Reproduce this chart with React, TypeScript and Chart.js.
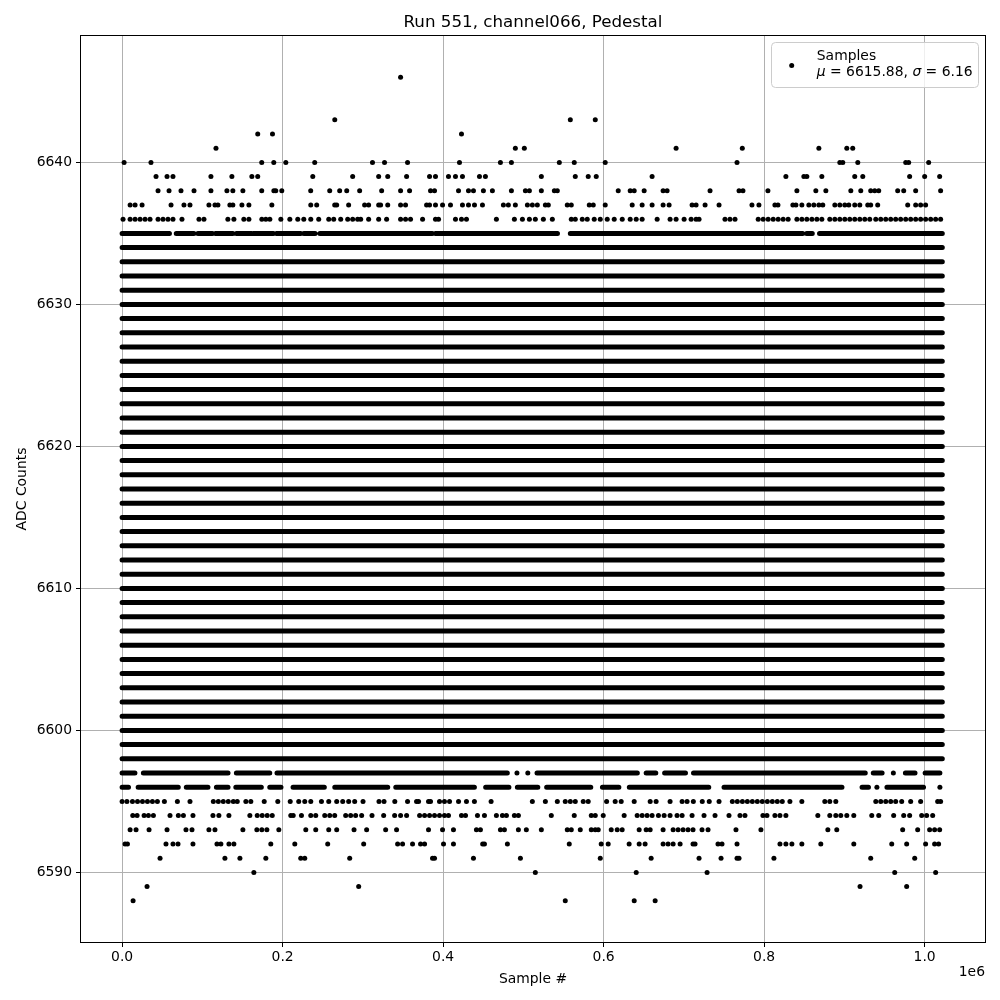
import React, { useEffect, useRef } from "react";
import { Chart, registerables } from "chart.js";

Chart.register(...registerables);

// ---------- text ----------
const TITLE = "Run 551, channel066, Pedestal";
const X_LABEL = "Sample #";
const Y_LABEL = "ADC Counts";
const X_OFFSET_LABEL = "1e6";
const LEGEND_LABEL = "Samples";
const MU = 6615.88;
const SIGMA = 6.16;

// ---------- axes ----------
const X_SCALE = 1e6; // x values below are in units of 1e6 samples
const X_MIN = -0.0512;
const X_MAX = 1.0752;
const Y_MIN = 6585.1;
const Y_MAX = 6648.9;
const X_TICKS = [0, 0.2, 0.4, 0.6, 0.8, 1.0];
const X_TICK_LABELS = ["0.0", "0.2", "0.4", "0.6", "0.8", "1.0"];
const Y_TICKS = [6590, 6600, 6610, 6620, 6630, 6640];

// ---------- data: rows that are solid across the whole run ----------
const X_FIRST = 0;
const X_LAST = 1.022;
const FULL_ROWS = [
  6598, 6599, 6600, 6601, 6602, 6603, 6604, 6605, 6606, 6607, 6608, 6609, 6610,
  6611, 6612, 6613, 6614, 6615, 6616, 6617, 6618, 6619, 6620, 6621, 6622, 6623,
  6624, 6625, 6626, 6627, 6628, 6629, 6630, 6631, 6632, 6633, 6634,
];

// ---------- data: nearly solid rows, as runs [from, to] ----------
const RUNS_6635 = [
  [0, 0.059], [0.0675, 0.0895], [0.0945, 0.1125], [0.1165, 0.138], [0.1425, 0.1615],
  [0.1635, 0.1885], [0.1925, 0.2225], [0.2265, 0.2405], [0.2465, 0.3865], [0.3905, 0.5425],
  [0.5585, 0.848], [0.853, 0.86], [0.869, 1.022],
];
const RUNS_6597 = [
  [0, 0.016], [0.0265, 0.132], [0.1424, 0.184], [0.193, 0.48], [0.517, 0.642],
  [0.653, 0.665], [0.676, 0.702], [0.712, 0.926], [0.936, 0.947], [0.976, 0.988],
  [1.0006, 1.019],
];
const RUNS_6596 = [
  [0, 0.008], [0.02, 0.07], [0.08, 0.107], [0.1175, 0.132], [0.1417, 0.1735],
  [0.184, 0.198], [0.213, 0.252], [0.265, 0.331], [0.341, 0.439], [0.453, 0.482],
  [0.4925, 0.518], [0.529, 0.584], [0.5985, 0.619], [0.632, 0.731], [0.75, 0.897],
  [0.922, 0.93], [0.953, 0.9986],
];

// ---------- data: sparse rows, individual samples ----------
const ROW_6646 = [0.347];
const ROW_6643 = [0.265, 0.5585, 0.5896];
const ROW_6642 = [0.169, 0.1874, 0.4229];
const ROW_6641 = [0.117, 0.49, 0.5012, 0.6903, 0.7728, 0.8682, 0.903, 0.9104];
const ROW_6640 = [
  0.0025, 0.036, 0.174, 0.189, 0.204, 0.24, 0.312, 0.327, 0.3557, 0.4204, 0.4714,
  0.4851, 0.5448, 0.5634, 0.602, 0.7662, 0.8943, 0.898, 0.9167, 0.9764, 0.9801, 1.005,
];
const ROW_6639 = [
  0.0423, 0.056, 0.0634, 0.1107, 0.1368, 0.1617, 0.169, 0.2376, 0.2873, 0.3197, 0.331,
  0.3545, 0.3831, 0.3905, 0.4067, 0.4154, 0.4241, 0.4453, 0.4527, 0.5224, 0.5647,
  0.5808, 0.5908, 0.6604, 0.8271, 0.8495, 0.8532, 0.8719, 0.9129, 0.9229, 0.9813, 1.0,
  1.0187,
];
const ROW_6638 = [
  0.0448, 0.0585, 0.0734, 0.0896, 0.1107, 0.1306, 0.138, 0.1505, 0.174, 0.1891, 0.1915,
  0.199, 0.235, 0.2587, 0.2711, 0.2799, 0.296, 0.3234, 0.347, 0.3582, 0.3843, 0.3893,
  0.4192, 0.4316, 0.4378, 0.4502, 0.4614, 0.4851, 0.5025, 0.5075, 0.5224, 0.5386,
  0.5423, 0.6182, 0.6331, 0.6381, 0.6505, 0.6741, 0.6791, 0.7326, 0.7687, 0.7736,
  0.8047, 0.8408, 0.8644, 0.8769, 0.908, 0.9204, 0.9328, 0.9378, 0.9428, 0.9664,
  0.9739, 0.9888, 1.0199,
];
const ROW_6637 = [
  0.01, 0.0162, 0.0249, 0.061, 0.0771, 0.0846, 0.1082, 0.1157, 0.1194, 0.1343, 0.138,
  0.1493, 0.158, 0.1866, 0.2351, 0.2425, 0.2649, 0.2674, 0.2823, 0.3022, 0.3072,
  0.3197, 0.3221, 0.331, 0.347, 0.3532, 0.3794, 0.3831, 0.3905, 0.3993, 0.4092, 0.4241,
  0.4316, 0.4391, 0.449, 0.4751, 0.4813, 0.49, 0.505, 0.5112, 0.5174, 0.5274, 0.5311,
  0.5547, 0.5597, 0.5821, 0.5871, 0.602, 0.6356, 0.648, 0.6604, 0.6741, 0.6816, 0.7102,
  0.7152, 0.7264, 0.7438, 0.7848, 0.7935, 0.8134, 0.8172, 0.8358, 0.8396, 0.847,
  0.8557, 0.8619, 0.8682, 0.8731, 0.8881, 0.8943, 0.9005, 0.9055, 0.9129, 0.9192,
  0.9291, 0.9328, 0.9415, 0.9789, 0.9888, 0.995, 1.0012,
];
const ROW_6636 = [
  0.0012, 0.01, 0.0162, 0.0224, 0.0286, 0.0348, 0.0448, 0.051, 0.0572, 0.0634, 0.0746,
  0.0958, 0.102, 0.1318, 0.1393, 0.1517, 0.158, 0.1741, 0.1791, 0.1841, 0.1978, 0.209,
  0.2189, 0.2264, 0.2351, 0.245, 0.2575, 0.2637, 0.2724, 0.2811, 0.2873, 0.2935,
  0.2973, 0.3072, 0.3197, 0.3296, 0.347, 0.3532, 0.3594, 0.3744, 0.3905, 0.3943,
  0.4154, 0.4229, 0.4291, 0.4664, 0.4888, 0.4988, 0.5075, 0.5149, 0.5249, 0.5361,
  0.5597, 0.5647, 0.5734, 0.5796, 0.5883, 0.5958, 0.6045, 0.6132, 0.6232, 0.6331,
  0.6406, 0.648, 0.6667, 0.6828, 0.6903, 0.7003, 0.709, 0.7152, 0.7189, 0.7512, 0.7574,
  0.7637, 0.7926, 0.7988, 0.805, 0.8113, 0.8175, 0.8237, 0.8299, 0.8408, 0.847, 0.8532,
  0.8595, 0.8657, 0.8719, 0.8818, 0.8881, 0.8943, 0.9005, 0.9067, 0.9129, 0.9192,
  0.9254, 0.9316, 0.9391, 0.9453, 0.9515, 0.9577, 0.9639, 0.9701, 0.9764, 0.9826,
  0.9888, 0.995, 1.0012, 1.0075, 1.0137, 1.0199,
];
const ROW_6597_SINGLES = [0.492, 0.5055, 0.961];
const ROW_6596_SINGLES = [0.9405, 1.019];
const ROW_6595 = [
  0.0, 0.006, 0.0129, 0.0192, 0.0254, 0.0316, 0.0378, 0.044, 0.0527, 0.0689, 0.0846,
  0.1137, 0.1199, 0.1261, 0.1323, 0.1386, 0.1435, 0.1542, 0.1604, 0.1771, 0.194,
  0.2095, 0.2201, 0.2276, 0.2351, 0.2484, 0.2575, 0.2674, 0.2749, 0.2823, 0.2898,
  0.3002, 0.3201, 0.3264, 0.3398, 0.3557, 0.3669, 0.3694, 0.3818, 0.3843, 0.3955,
  0.4017, 0.408, 0.4192, 0.4291, 0.439, 0.4598, 0.5112, 0.5274, 0.5423, 0.5522, 0.5585,
  0.5647, 0.5746, 0.5808, 0.6037, 0.6144, 0.6219, 0.6381, 0.658, 0.6654, 0.6828,
  0.6978, 0.704, 0.7118, 0.7229, 0.7316, 0.7438, 0.7604, 0.7666, 0.7729, 0.7791,
  0.7853, 0.7915, 0.7977, 0.804, 0.8102, 0.8164, 0.8226, 0.8321, 0.847, 0.8756, 0.8818,
  0.8893, 0.9391, 0.9453, 0.9515, 0.9577, 0.9639, 0.9714, 0.9826, 0.995, 1.0162, 1.0199,
];
const ROW_6594 = [
  0.0133, 0.0187, 0.0274, 0.0328, 0.039, 0.0597, 0.0701, 0.0764, 0.0883, 0.1132,
  0.1206, 0.1331, 0.1592, 0.1684, 0.1746, 0.1808, 0.1871, 0.2102, 0.2132, 0.2235,
  0.2351, 0.2413, 0.2525, 0.2587, 0.2649, 0.2786, 0.2848, 0.291, 0.2985, 0.3114,
  0.3259, 0.3396, 0.347, 0.3545, 0.3707, 0.3769, 0.3831, 0.3893, 0.3955, 0.4017,
  0.4067, 0.4229, 0.4279, 0.4428, 0.4515, 0.4664, 0.4739, 0.4789, 0.4888, 0.4938,
  0.5348, 0.5634, 0.5846, 0.5896, 0.5995, 0.6256, 0.6418, 0.648, 0.6542, 0.6604,
  0.6683, 0.6754, 0.6828, 0.6915, 0.6978, 0.7102, 0.7251, 0.7388, 0.7562, 0.7699,
  0.7761, 0.7985, 0.8035, 0.8134, 0.8197, 0.8271, 0.8669, 0.8818, 0.8893, 0.8955,
  0.903, 0.9117, 0.9341, 0.9428, 0.9614, 0.9739, 0.9813, 0.9963, 1.0025, 1.01,
];
const ROW_6593 = [
  0.01, 0.0174, 0.0336, 0.056, 0.0796, 0.0871, 0.1082, 0.1157, 0.1505, 0.1679, 0.1741,
  0.1804, 0.1953, 0.2289, 0.2413, 0.2575, 0.2674, 0.289, 0.3047, 0.3284, 0.342, 0.3818,
  0.3993, 0.4129, 0.4415, 0.4465, 0.4714, 0.4764, 0.4938, 0.5037, 0.5224, 0.5547,
  0.5597, 0.5709, 0.5846, 0.5896, 0.5933, 0.6095, 0.6169, 0.6231, 0.6443, 0.653, 0.658,
  0.6741, 0.6866, 0.6928, 0.699, 0.7052, 0.7114, 0.7226, 0.7301, 0.7649, 0.796, 0.8794,
  0.8905, 0.9726, 0.9913, 1.0062, 1.0124, 1.0187,
];
const ROW_6592 = [
  0.0037, 0.0067, 0.0547, 0.0634, 0.0697, 0.0883, 0.1182, 0.1231, 0.1331, 0.1393,
  0.1853, 0.2152, 0.2562, 0.301, 0.3433, 0.3495, 0.3619, 0.3719, 0.3769, 0.4005,
  0.4129, 0.4493, 0.4515, 0.4801, 0.5572, 0.597, 0.6057, 0.6318, 0.6443, 0.6517,
  0.6741, 0.6803, 0.6866, 0.6953, 0.7114, 0.7139, 0.7425, 0.7475, 0.7662, 0.8197,
  0.8271, 0.8346, 0.847, 0.8706, 0.9117, 0.959, 0.9776, 1.0012, 1.0124, 1.0174,
];
const ROW_6591 = [
  0.0473, 0.1281, 0.1468, 0.1791, 0.2226, 0.2276, 0.2836, 0.3868, 0.3893, 0.4378,
  0.4963, 0.5958, 0.6592, 0.7189, 0.7463, 0.7662, 0.7687, 0.8122, 0.9328, 0.9876,
];
const ROW_6590 = [0.1642, 0.5149, 0.6406, 0.7289, 0.9627, 1.0137];
const ROW_6589 = [0.0311, 0.2948, 0.9195, 0.9776];
const ROW_6588 = [0.0137, 0.5522, 0.6381, 0.6642];

const RUN_ROWS: [number, number[][]][] = [
  [6635, RUNS_6635],
  [6597, RUNS_6597],
  [6596, RUNS_6596],
];
const POINT_ROWS: [number, number[]][] = [
  [6646, ROW_6646], [6643, ROW_6643], [6642, ROW_6642], [6641, ROW_6641],
  [6640, ROW_6640], [6639, ROW_6639], [6638, ROW_6638], [6637, ROW_6637],
  [6636, ROW_6636], [6597, ROW_6597_SINGLES], [6596, ROW_6596_SINGLES],
  [6595, ROW_6595], [6594, ROW_6594], [6593, ROW_6593], [6592, ROW_6592],
  [6591, ROW_6591], [6590, ROW_6590], [6589, ROW_6589], [6588, ROW_6588],
];

function buildRunData() {
  const out: any[] = [];
  const push = (y: number, a: number, b: number) => {
    out.push({ x: a * X_SCALE, y }, { x: b * X_SCALE, y }, { x: b * X_SCALE, y: null });
  };
  FULL_ROWS.forEach((y) => push(y, X_FIRST, X_LAST));
  RUN_ROWS.forEach(([y, runs]) => runs.forEach(([a, b]) => push(y, a, b)));
  return out;
}

function buildPointData() {
  const out: any[] = [];
  POINT_ROWS.forEach(([y, xs]) => xs.forEach((x) => out.push({ x: x * X_SCALE, y })));
  return out;
}

const FONT = '"DejaVu Sans", "Liberation Sans", sans-serif';

const decorPlugin = {
  id: "decor",
  afterDraw(chart: any) {
    const { ctx, chartArea: a } = chart;
    ctx.save();
    // frame (all four spines)
    ctx.strokeStyle = "#000";
    ctx.lineWidth = 1;
    ctx.strokeRect(a.left - 0.5, a.top - 0.5, a.right - a.left + 1, a.bottom - a.top + 1);

    const cx = (a.left + a.right) / 2;
    const cy = (a.top + a.bottom) / 2;
    ctx.fillStyle = "#000";
    ctx.textBaseline = "alphabetic";

    // title
    ctx.font = `16.7px ${FONT}`;
    ctx.textAlign = "center";
    ctx.fillText(TITLE, cx, a.top - 9);

    // axis labels
    ctx.font = `13.9px ${FONT}`;
    ctx.fillText(X_LABEL, cx, a.bottom + 41);
    ctx.textAlign = "right";
    ctx.fillText(X_OFFSET_LABEL, a.right, a.bottom + 34);
    ctx.save();
    ctx.translate(26, cy);
    ctx.rotate(-Math.PI / 2);
    ctx.textAlign = "center";
    ctx.fillText(Y_LABEL, 0, 0);
    ctx.restore();

    // legend
    const lx = a.right - 213.5;
    const ly = a.top + 6.5;
    const lw = 207;
    const lh = 45;
    ctx.beginPath();
    ctx.roundRect(lx, ly, lw, lh, 4);
    ctx.fillStyle = "rgba(255,255,255,0.8)";
    ctx.fill();
    ctx.strokeStyle = "#cccccc";
    ctx.lineWidth = 1;
    ctx.stroke();

    ctx.fillStyle = "#000";
    ctx.beginPath();
    ctx.arc(lx + 20.2, ly + 23, 2.5, 0, Math.PI * 2);
    ctx.fill();

    ctx.textAlign = "left";
    const tx = lx + 45.3;
    ctx.font = `13.9px ${FONT}`;
    ctx.fillText(LEGEND_LABEL, tx, ly + 17.5);
    const parts: [string, boolean][] = [
      ["\u03bc", true],
      [` = ${MU.toFixed(2)}, `, false],
      ["\u03c3", true],
      [` = ${SIGMA.toFixed(2)}`, false],
    ];
    let x = tx;
    parts.forEach(([t, it]) => {
      ctx.font = `${it ? "italic " : ""}13.9px ${FONT}`;
      ctx.fillText(t, x, ly + 33.5);
      x += ctx.measureText(t).width;
    });
    ctx.restore();
  },
};

export default function App() {
  const ref = useRef<HTMLCanvasElement | null>(null);

  useEffect(() => {
    if (!ref.current) return;
    Chart.defaults.font.family = FONT;
    const chart = new Chart(ref.current, {
      type: "line",
      data: {
        datasets: [
          {
            label: "rows",
            data: buildRunData(),
            borderColor: "#000",
            borderWidth: 5,
            borderCapStyle: "round",
            borderJoinStyle: "round",
            pointRadius: 0,
            spanGaps: false,
            fill: false,
            tension: 0,
          } as any,
          {
            label: LEGEND_LABEL,
            data: buildPointData(),
            showLine: false,
            pointRadius: 2.5,
            pointBackgroundColor: "#000",
            pointBorderWidth: 0,
            borderColor: "#000",
          } as any,
        ],
      },
      options: {
        responsive: false,
        animation: false,
        devicePixelRatio: 1,
        events: [],
        layout: { padding: { left: 0, right: 15, top: 36, bottom: 0 } },
        plugins: {
          legend: { display: false },
          title: { display: false },
          tooltip: { enabled: false },
        },
        scales: {
          x: {
            type: "linear",
            min: X_MIN * X_SCALE,
            max: X_MAX * X_SCALE,
            afterFit: (s: any) => {
              s.height = 58;
            },
            afterBuildTicks: (s: any) => {
              s.ticks = X_TICKS.map((v) => ({ value: v * X_SCALE }));
            },
            ticks: {
              callback: (_v: any, i: number) => X_TICK_LABELS[i],
              color: "#000",
              font: { size: 13.9, family: FONT },
              padding: 2,
              maxRotation: 0,
              autoSkip: false,
            },
            grid: { color: "#b0b0b0", lineWidth: 1, tickColor: "#000", tickLength: 5, drawTicks: true },
            border: { display: false },
          },
          y: {
            type: "linear",
            min: Y_MIN,
            max: Y_MAX,
            afterFit: (s: any) => {
              s.width = 81;
            },
            afterBuildTicks: (s: any) => {
              s.ticks = Y_TICKS.map((v) => ({ value: v }));
            },
            ticks: {
              callback: (v: any) => String(v),
              color: "#000",
              font: { size: 13.9, family: FONT },
              padding: 4,
              autoSkip: false,
            },
            grid: { color: "#b0b0b0", lineWidth: 1, tickColor: "#000", tickLength: 5, drawTicks: true },
            border: { display: false },
          },
        },
      },
      plugins: [decorPlugin],
    } as any);
    return () => chart.destroy();
  }, []);

  return (
    <div style={{ position: "absolute", left: 0, top: 0, width: 1000, height: 1000, background: "#fff" }}>
      <canvas ref={ref} width={1000} height={1000} style={{ display: "block" }} />
    </div>
  );
}
